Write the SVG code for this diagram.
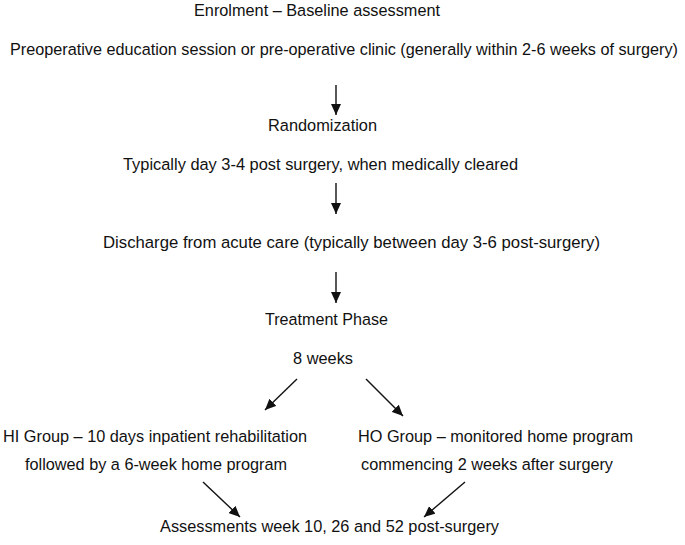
<svg xmlns="http://www.w3.org/2000/svg" width="685" height="545" viewBox="0 0 685 545">
  <style>
    text { font-family: "Liberation Sans", Arial, Helvetica, sans-serif; font-size: 16.3px; fill: #111; }
    .c { stroke: #111; stroke-width: 1.4; fill: none; marker-end: url(#ah); }
  </style>
  <defs>
    <marker id="ah" markerUnits="userSpaceOnUse" markerWidth="12" markerHeight="10" refX="11" refY="5" orient="auto">
      <path d="M0,0 L11,5 L0,10 Z" fill="#111"/>
    </marker>
  </defs>
  <rect width="685" height="545" fill="#fff"/>
  <g id="enrolment">
    <text x="194" y="16" textLength="246" lengthAdjust="spacingAndGlyphs">Enrolment – Baseline assessment</text>
    <text x="10" y="55" textLength="668" lengthAdjust="spacingAndGlyphs">Preoperative education session or pre-operative clinic (generally within 2-6 weeks of surgery)</text>
  </g>
  <g id="randomization">
    <text x="268" y="131" textLength="109" lengthAdjust="spacingAndGlyphs">Randomization</text>
    <text x="123" y="170" textLength="395" lengthAdjust="spacingAndGlyphs">Typically day 3-4 post surgery, when medically cleared</text>
  </g>
  <g id="discharge">
    <text x="103" y="248" textLength="497" lengthAdjust="spacingAndGlyphs">Discharge from acute care (typically between day 3-6 post-surgery)</text>
  </g>
  <g id="treatment">
    <text x="265" y="325" textLength="123" lengthAdjust="spacingAndGlyphs">Treatment Phase</text>
    <text x="293" y="364" textLength="60" lengthAdjust="spacingAndGlyphs">8 weeks</text>
  </g>
  <g id="hi-group">
    <text x="3" y="442" textLength="304" lengthAdjust="spacingAndGlyphs">HI Group – 10 days inpatient rehabilitation</text>
    <text x="25" y="470" textLength="262" lengthAdjust="spacingAndGlyphs">followed by a 6-week home program</text>
  </g>
  <g id="ho-group">
    <text x="358" y="442" textLength="275" lengthAdjust="spacingAndGlyphs">HO Group – monitored home program</text>
    <text x="361" y="470" textLength="252" lengthAdjust="spacingAndGlyphs">commencing 2 weeks after surgery</text>
  </g>
  <g id="assessments">
    <text x="160" y="532" textLength="339" lengthAdjust="spacingAndGlyphs">Assessments week 10, 26 and 52 post-surgery</text>
  </g>
  <g id="connectors">
    <line class="c" x1="336" y1="85" x2="336" y2="115"/>
    <line class="c" x1="336" y1="183" x2="336" y2="214"/>
    <line class="c" x1="336" y1="272" x2="336" y2="303"/>
    <line class="c" x1="297" y1="379" x2="265" y2="410"/>
    <line class="c" x1="366" y1="379" x2="403" y2="416"/>
    <line class="c" x1="203" y1="482" x2="240" y2="517"/>
    <line class="c" x1="465" y1="482" x2="424" y2="517"/>
  </g>
</svg>
